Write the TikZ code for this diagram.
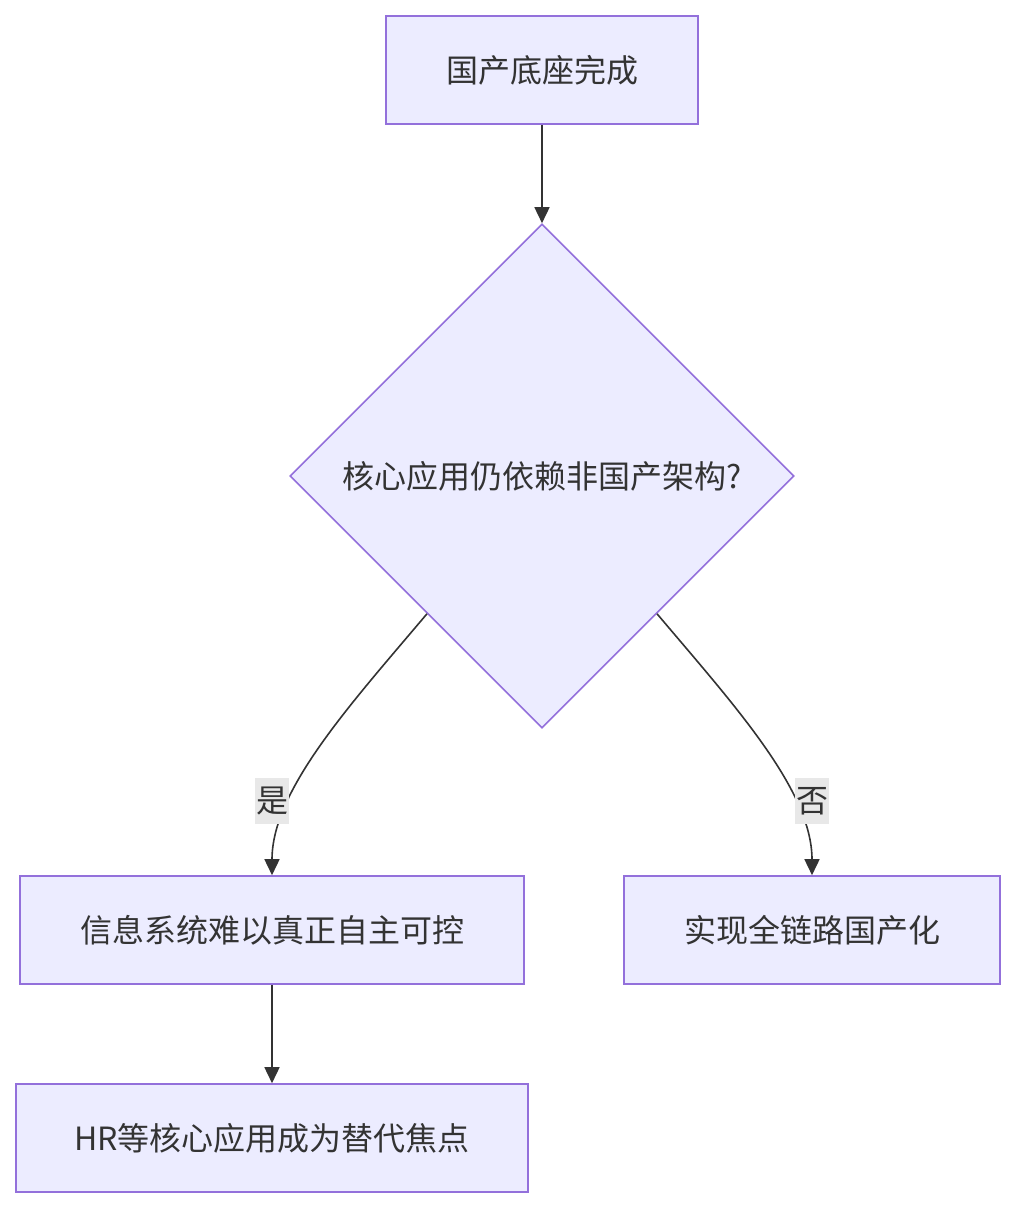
\documentclass[tikz,border=0pt]{standalone}
\usepackage{fontspec}
\setmainfont{Noto Sans CJK SC}
\usetikzlibrary{shapes.geometric,arrows.meta,calc}
\definecolor{nodefill}{HTML}{ECECFF}
\definecolor{nodeline}{HTML}{9370DB}
\definecolor{edgeline}{HTML}{333333}
\definecolor{lblbg}{HTML}{E8E8E8}
\begin{document}
\begin{tikzpicture}[x=1pt,y=-1pt,
  font=\fontsize{32}{38}\selectfont, text=edgeline,
  box/.style={draw=nodeline,fill=nodefill,line width=1.6pt,minimum height=108pt,inner sep=0pt},
  decision/.style={diamond,draw=nodeline,fill=nodefill,line width=1.6pt,minimum width=504pt,minimum height=504pt,inner sep=0pt},
  flow/.style={draw=edgeline,line width=1.6pt,-{Triangle[length=16pt,width=15pt]}},
  lbl/.style={fill=lblbg,inner sep=1pt,minimum width=32pt,minimum height=46pt}]
\useasboundingbox (0,0) rectangle (1015,1207);
\node[box,minimum width=312pt] (a) at (542,70) {国产底座完成};
\node[decision] (d) at (542,476) {核心应用仍依赖非国产架构?};
\node[box,minimum width=504pt] (b) at (272,930) {信息系统难以真正自主可控};
\node[box,minimum width=376pt] (c) at (812,930) {实现全链路国产化};
\node[box,minimum width=512pt] (e) at (272,1138) {HR等核心应用成为替代焦点};
\coordinate (dl) at ($(d.west)!0.545!(d.south)$);
\coordinate (dr) at ($(d.east)!0.545!(d.south)$);
\draw[flow] (a.south) -- (d.north);
\draw[flow] (dl) .. controls (350,705) and (272,790) .. (b.north);
\draw[flow] (dr) .. controls (734,705) and (812,790) .. (c.north);
\draw[flow] (b.south) -- (e.north);
\node[lbl] (ly) at (272,801) {是};
\node[lbl] (ln) at (812,801) {否};
\end{tikzpicture}
\end{document}
